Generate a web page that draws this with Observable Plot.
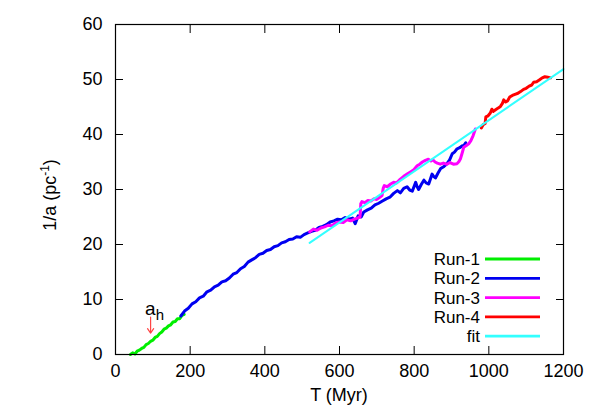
<!DOCTYPE html>
<html><head><meta charset="utf-8">
<script src="https://cdn.jsdelivr.net/npm/d3@7"></script>
<script src="https://cdn.jsdelivr.net/npm/@observablehq/plot@0.6"></script>
<style>
body{margin:0;background:#fff;}
#chart svg{font-family:"Liberation Sans",Arial,Helvetica,sans-serif;}
</style>
</head><body><div id="chart"></div>
<script>
// ---- data ----
const seriesNames = ["Run-1", "Run-2", "Run-3", "Run-4", "fit"];
const seriesColors = ["#00ee00", "#0000f0", "#ff00ff", "#ff0000", "#33ffff"];
const seriesWidths = [3, 3, 3, 3, 2];

const run1T = [40, 46, 52, 58, 64, 70, 76, 82, 88, 94, 100, 106, 112, 118, 124, 130, 136, 142, 148, 154, 160, 166, 172, 178, 184];
const run1V = [0.0, 0.3, 0.1, 0.6, 0.8, 1.1, 1.3, 1.8, 2.0, 2.4, 2.6, 3.1, 3.3, 3.8, 4.1, 4.6, 4.8, 5.2, 5.4, 5.9, 6.0, 6.5, 6.5, 7.1, 7.3];

const run2T = [175, 185, 195, 205, 215, 225, 235, 245, 255, 265, 275, 285, 295, 305, 315, 325, 335, 345, 355, 365, 375, 385, 395, 405, 415, 425, 435, 445, 455, 465, 475, 485, 495, 505, 515, 525, 535, 545, 555, 565, 575, 585, 595, 605, 615, 625, 635, 642, 650, 658, 665, 675, 685, 695, 705, 715, 725, 735, 745, 755, 763, 772, 781, 788, 795, 800, 804, 808, 812, 819, 826, 832, 839, 844, 848, 852, 857, 864, 871, 880, 888, 895, 902, 908, 915, 922, 928, 933, 938];
const run2V = [7.0, 7.9, 8.4, 9.2, 9.6, 10.3, 10.6, 11.4, 11.7, 12.3, 12.6, 13.2, 13.4, 13.9, 14.6, 14.9, 15.6, 16.0, 16.8, 17.2, 17.6, 18.2, 18.4, 18.9, 19.1, 19.6, 19.8, 20.3, 20.5, 20.9, 21.0, 21.4, 21.3, 21.8, 22.1, 22.4, 22.6, 23.1, 23.3, 23.6, 24.1, 24.3, 24.6, 24.5, 24.9, 24.6, 24.8, 23.8, 25.2, 25.0, 25.9, 26.3, 26.6, 27.2, 27.5, 27.9, 28.3, 28.6, 29.3, 29.8, 29.4, 30.2, 30.5, 29.9, 29.7, 30.6, 31.3, 30.5, 30.0, 30.9, 31.7, 31.2, 31.0, 32.0, 32.8, 32.4, 32.1, 33.0, 33.8, 34.2, 34.7, 35.4, 36.5, 36.8, 37.4, 37.6, 37.9, 38.0, 38.5];

const run3T = [520, 530, 540, 550, 560, 570, 580, 590, 600, 610, 620, 630, 640, 648, 655, 657, 660, 668, 676, 684, 692, 700, 708, 714, 717, 720, 728, 737, 745, 753, 763, 772, 781, 790, 799, 808, 815, 822, 830, 838, 845, 850, 856, 862, 870, 878, 888, 896, 905, 915, 920, 924, 928, 933, 940, 946, 952, 958, 964];
const run3V = [22.3, 22.8, 22.6, 23.0, 23.2, 23.5, 23.4, 23.9, 24.1, 24.0, 24.5, 24.3, 24.6, 24.8, 25.0, 27.4, 27.8, 27.6, 28.0, 27.9, 28.3, 28.2, 28.6, 28.9, 30.2, 30.7, 30.5, 31.0, 31.3, 31.2, 31.9, 32.4, 32.8, 33.2, 33.6, 34.3, 34.6, 35.0, 35.3, 35.5, 35.2, 35.4, 35.0, 34.8, 34.6, 34.8, 34.6, 34.9, 34.6, 34.7, 35.1, 35.6, 36.5, 37.7, 38.0, 38.3, 38.9, 39.8, 41.0];

const run4T = [980, 985, 990, 992, 998, 1004, 1008, 1012, 1018, 1025, 1031, 1036, 1040, 1045, 1050, 1056, 1063, 1070, 1078, 1085, 1093, 1100, 1108, 1115, 1120, 1128, 1135, 1143, 1150, 1158, 1165];
const run4V = [41.2, 41.8, 42.0, 43.2, 43.4, 43.9, 44.6, 44.2, 44.5, 44.8, 45.1, 45.6, 46.3, 45.9, 46.1, 46.8, 47.1, 47.3, 47.5, 47.8, 48.2, 48.4, 48.8, 49.0, 49.5, 49.6, 49.9, 50.3, 50.5, 50.4, 50.3];

const fitT = [520, 1200];
const fitV = [20.3, 51.9];

const xTicks = [0, 200, 400, 600, 800, 1000, 1200];
const yTicks = [0, 10, 20, 30, 40, 50, 60];
const xTitle = "T (Myr)";
const yTitleMain = "1/a (pc";
const yTitleSup = "-1";

// annotation a_h
const annotT = [94];
const annotTop = [6.8];
const annotBottom = [3.9];
const annotTextV = [7.1];

// ---- build table ----
const seriesT = [run1T, run2T, run3T, run4T, fitT];
const seriesV = [run1V, run2V, run3V, run4V, fitV];
const seriesRows = seriesNames.map((name, i) =>
  seriesT[i].map((t, j) => ({T: t, v: seriesV[i][j], s: name})));
const arrowRows = annotT.map((t, i) => ({T: t, top: annotTop[i], bottom: annotBottom[i]}));

const FONT = 18;
const chart = Plot.plot({
  width: 592, height: 416,
  marginLeft: 115, marginRight: 29, marginTop: 24, marginBottom: 62,
  x: {domain: [0, 1200]},
  y: {domain: [0, 60]},
  color: {domain: seriesNames, range: seriesColors},
  style: {fontFamily: '"Liberation Sans", Arial, sans-serif', fontSize: FONT + "px", color: "#000", background: "#fff", overflow: "visible"},
  marks: [
    ...seriesRows.map((r, i) => Plot.line(r, {x: "T", y: "v", stroke: "s", strokeWidth: seriesWidths[i], strokeLinejoin: "round"})),
    Plot.arrow(arrowRows, {x1: "T", y1: "top", x2: "T", y2: "bottom", stroke: "#ff4444", strokeWidth: 1.2, headLength: 7, headAngle: 70}),
    Plot.frame({stroke: "#000", strokeWidth: 1.2}),
    Plot.axisX({ticks: xTicks, tickSize: -8, tickPadding: 18, tickFormat: d => String(d), label: null, fontSize: FONT}),
    Plot.axisX({anchor: "top", ticks: xTicks, tickSize: -8, tickFormat: () => "", label: null}),
    Plot.axisY({ticks: yTicks, tickSize: -8, tickPadding: 21, tickFormat: d => String(d), label: null, fontSize: FONT}),
    Plot.axisY({anchor: "right", ticks: yTicks, tickSize: -8, tickFormat: () => "", label: null})
  ]
});
document.getElementById("chart").appendChild(chart);

// ---- extra text drawn with scale positions ----
const svg = d3.select(chart);
const sx = chart.scale("x"), sy = chart.scale("y");

// a_h label
annotT.forEach((t, i) => {
  const tx = svg.append("text")
    .attr("x", sx.apply(t) - 5).attr("y", sy.apply(annotTextV[i]))
    .attr("text-anchor", "start")
    .attr("font-size", 19).attr("fill", "#000");
  tx.append("tspan").text("a");
  tx.append("tspan").attr("dy", 5).attr("font-size", 15).text("h");
});

// axis titles
svg.append("text").attr("x", 339).attr("y", 401).attr("text-anchor", "middle")
  .attr("font-size", FONT).attr("fill", "#000").text(xTitle);
const yt = svg.append("text").attr("transform", "translate(56,195) rotate(-90)")
  .attr("text-anchor", "middle").attr("font-size", FONT).attr("fill", "#000");
yt.append("tspan").text(yTitleMain);
yt.append("tspan").attr("dy", -7).attr("font-size", 12).text(yTitleSup);
yt.append("tspan").attr("dy", 7).text(")");

// legend
const legX = 480, legY0 = 259, legStep = 19.3;
seriesNames.forEach((name, i) => {
  const y = legY0 + i * legStep;
  svg.append("text").attr("x", legX).attr("y", y).attr("dy", "0.35em")
    .attr("text-anchor", "end").attr("font-size", 17).attr("fill", "#000").text(name);
  svg.append("line").attr("x1", 485).attr("x2", 540).attr("y1", y).attr("y2", y)
    .attr("stroke", seriesColors[i]).attr("stroke-width", 2.8);
});
</script>
</body></html>
